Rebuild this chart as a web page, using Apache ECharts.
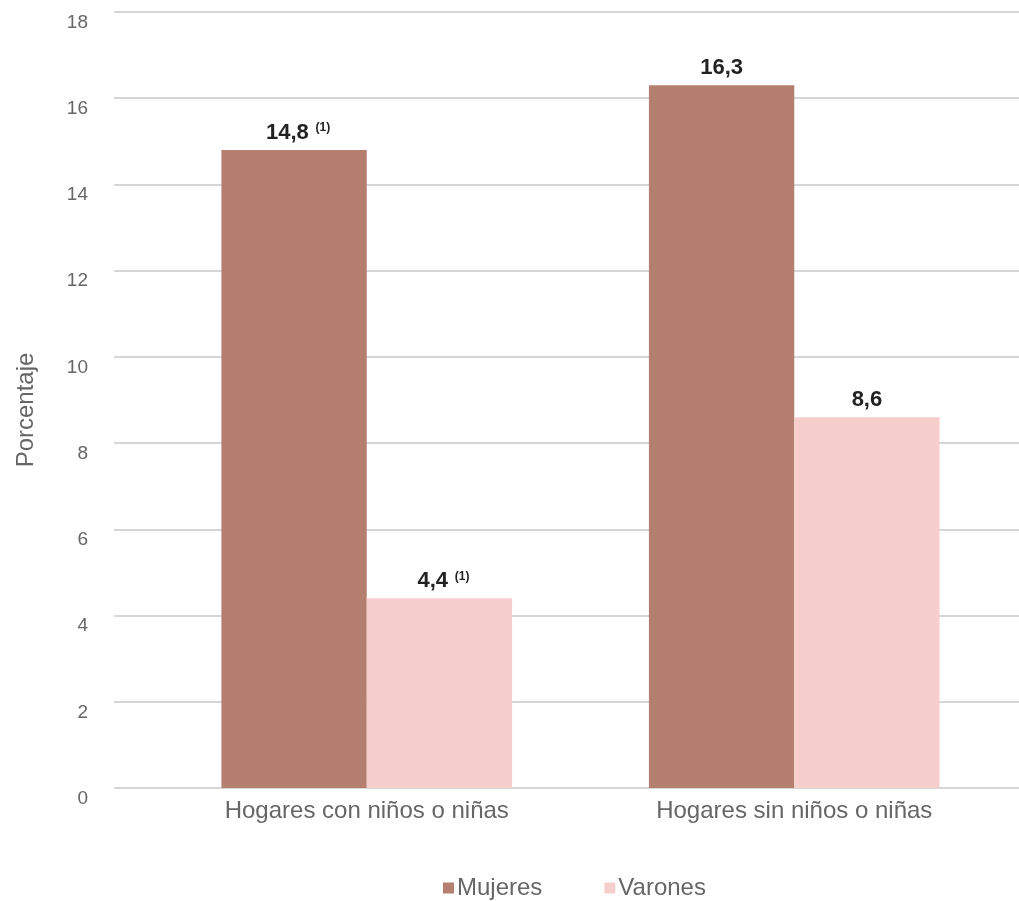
<!DOCTYPE html>
<html><head><meta charset="utf-8">
<script src="https://cdn.jsdelivr.net/npm/echarts@6/dist/echarts.min.js"></script>
<style>html,body{margin:0;padding:0;background:#fff}#c{width:1019px;height:901px}</style>
</head><body><div id="c"></div>
<script>
const categories = ['Hogares con niños o niñas', 'Hogares sin niños o niñas'];
const mujeres = [14.8, 16.3];
const varones = [4.4, 8.6];
const mujeresNotes = ['(1)', ''];
const varonesNotes = ['(1)', ''];
const yTicks = [0, 2, 4, 6, 8, 10, 12, 14, 16, 18];

const FONT = '"Liberation Sans", Arial, sans-serif';
function fmt(notes) {
  return function (p) {
    const v = String(p.value).replace('.', ',');
    const n = notes[p.dataIndex];
    return n ? '{v|' + v + '}  {s|' + n + '}' : '{v|' + v + '}';
  };
}
function items(values, notes) {
  return values.map(function (v, i) {
    return notes[i] ? { value: v, label: { offset: [4, 0] } } : { value: v };
  });
}
const labelRich = {
  v: { fontSize: 22, fontWeight: 'bold', color: '#222', fontFamily: FONT },
  s: { fontSize: 12, fontWeight: 'bold', color: '#222', fontFamily: FONT, padding: [0, 0, 10, 0] }
};

const chart = echarts.init(document.getElementById('c'));
chart.setOption({
  animation: false,
  textStyle: { fontFamily: FONT },
  legend: {
    top: 871, left: 438, itemWidth: 11, itemHeight: 11, itemGap: 62,
    icon: 'rect',
    textStyle: { fontSize: 24, color: '#666', fontFamily: FONT, padding: [0, 0, 0, -2] },
    data: ['Mujeres', 'Varones']
  },
  grid: [
    { left: 114, right: 0, top: 12, bottom: 113, containLabel: false },
    { left: 153, right: 11, top: 12, bottom: 113, containLabel: false }
  ],
  xAxis: [
    { type: 'value', gridIndex: 0, show: false, min: 0, max: 1 },
    {
      type: 'category', gridIndex: 1, data: categories,
      axisLine: { show: false }, axisTick: { show: false },
      axisLabel: { fontSize: 24, color: '#666', margin: 11, fontFamily: FONT }
    }
  ],
  yAxis: [
    {
      type: 'value', gridIndex: 0, min: 0, max: 18, interval: 2,
      name: 'Porcentaje', nameLocation: 'middle', nameGap: 76, nameRotate: 90,
      nameTextStyle: { fontSize: 24, color: '#666', fontFamily: FONT, padding: [0, 20, 0, 0] },
      axisLine: { show: false }, axisTick: { show: false },
      axisLabel: { fontSize: 19, color: '#666', margin: 26, fontFamily: FONT, verticalAlign: 'top', lineHeight: 19, padding: [1, 0, 0, 0] },
      splitLine: { lineStyle: { color: '#d6d6d6', width: 2 } }
    },
    {
      type: 'value', gridIndex: 1, min: 0, max: 18, interval: 2, show: false,
      splitLine: { show: false }
    }
  ],
  series: [
    {
      name: 'Mujeres', type: 'bar', xAxisIndex: 1, yAxisIndex: 1, data: items(mujeres, mujeresNotes),
      barGap: '0%', barCategoryGap: '32%',
      itemStyle: { color: '#b57f70' },
      label: { show: true, position: 'top', distance: 6, formatter: fmt(mujeresNotes), rich: labelRich }
    },
    {
      name: 'Varones', type: 'bar', xAxisIndex: 1, yAxisIndex: 1, data: items(varones, varonesNotes),
      barGap: '0%', barCategoryGap: '32%',
      itemStyle: { color: '#f6cfcd' },
      label: { show: true, position: 'top', distance: 6, formatter: fmt(varonesNotes), rich: labelRich }
    }
  ]
});
</script></body></html>
